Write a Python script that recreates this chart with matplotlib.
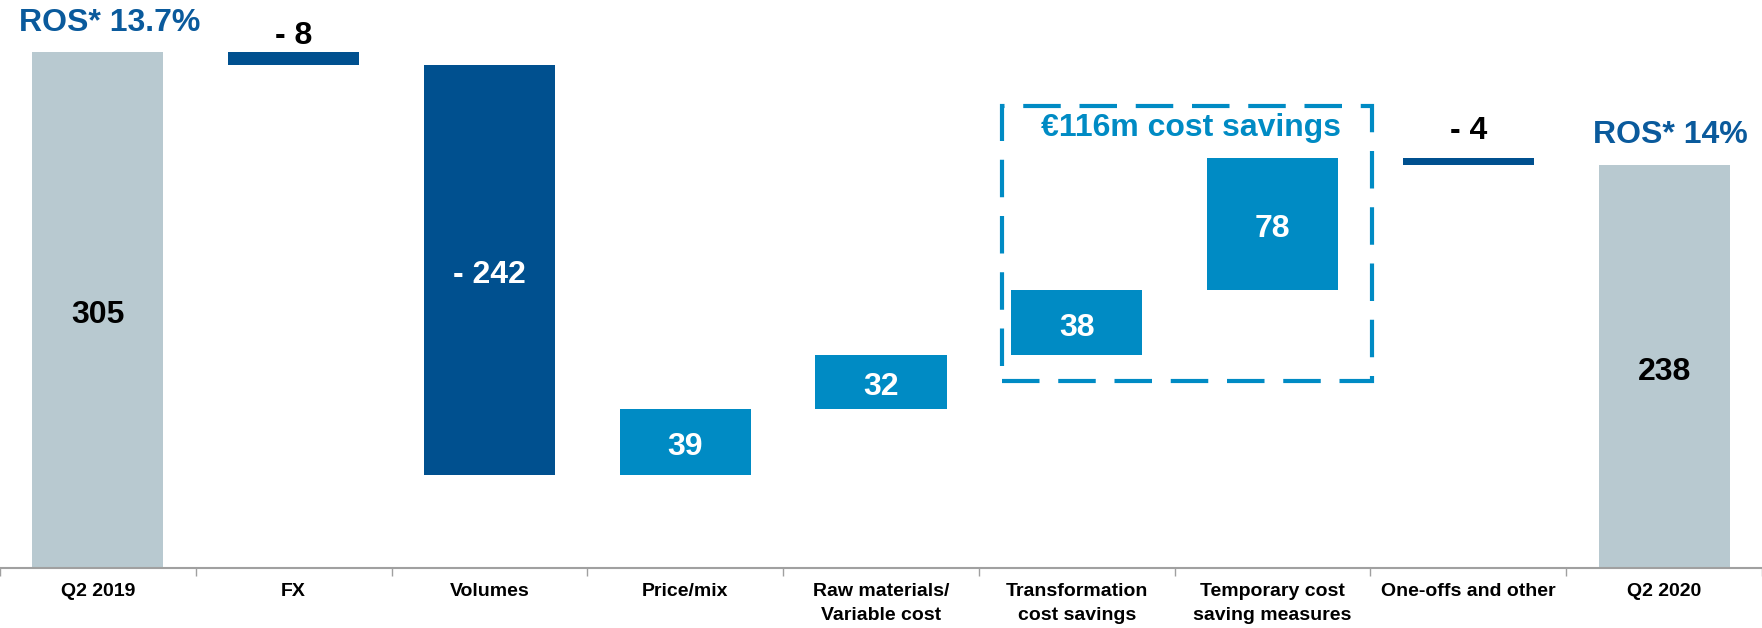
import numpy as np
import matplotlib
matplotlib.use("Agg")
import matplotlib.pyplot as plt
from matplotlib.patches import Rectangle

plt.rcParams['font.family'] = ['Liberation Sans', 'DejaVu Sans']
plt.rcParams['font.weight'] = 'bold'

# --- data ---
categories = ['Q2 2019', 'FX', 'Volumes', 'Price/mix', 'Raw materials/\nVariable cost',
              'Transformation\ncost savings', 'Temporary cost\nsaving measures',
              'One-offs and other', 'Q2 2020']
values = [305, -8, -242, 39, 32, 38, 78, -4, 238]
is_total = [True, False, False, False, False, False, False, False, True]
labels = ['305', '- 8', '- 242', '39', '32', '38', '78', '- 4', '238']
ros_labels = ['ROS* 13.7%', 'ROS* 14%']

grey = '#B8C9D0'
dark = '#00508F'
light = '#008BC4'

fig = plt.figure(figsize=(17.62, 6.28), dpi=100)
ax = fig.add_axes([0, 60 / 628, 1, 568 / 628])

x = np.arange(len(categories))
bottoms, heights, colors = [], [], []
running = 0
for v, tot in zip(values, is_total):
    if tot:
        bottoms.append(0)
        heights.append(v)
        colors.append(grey)
        running = v
    else:
        if v < 0:
            bottoms.append(running + v)
            colors.append(dark)
        else:
            bottoms.append(running)
            colors.append(light)
        heights.append(abs(v))
        running += v

ax.bar(x, heights, bottom=bottoms, width=0.67, color=colors, zorder=2)

# value labels
above_offset = {1: 9, 7: 16}
for i, (b, h, tot, lab) in enumerate(zip(bottoms, heights, is_total, labels)):
    if tot:
        ax.text(i, b + h / 2 - 3, lab, ha='center', va='center',
                fontsize=23, color='black', fontweight='bold')
    elif h < 15:
        ax.text(i, b + h + above_offset.get(i, 12), lab, ha='center', va='center',
                fontsize=23, color='black', fontweight='bold')
    else:
        ax.text(i, b + h / 2 - 3, lab, ha='center', va='center', fontsize=23,
                color='white', fontweight='bold')

# ROS annotations
ax.text(0.06, 322, ros_labels[0], ha='center', va='center', fontsize=23,
        color='#0A5A9C', fontweight='bold')
ax.text(8.03, 255.5, ros_labels[1], ha='center', va='center', fontsize=23,
        color='#0A5A9C', fontweight='bold')

# dashed box around cost savings
box = Rectangle((4.62, 110.5), 1.89, 162.4, fill=False, edgecolor=light,
                linewidth=3, linestyle=(0, (9, 4.5)), zorder=3)
ax.add_patch(box)
ax.text(5.585, 260, '\u20ac116m cost savings', ha='center', va='center',
        fontsize=23, color=light, fontweight='bold')

ax.set_xlim(-0.5, len(categories) - 0.5)
ax.set_ylim(0, 335.5)
for s in ['top', 'right', 'left']:
    ax.spines[s].set_visible(False)
ax.spines['bottom'].set_color('#A0A0A0')
ax.spines['bottom'].set_linewidth(1.5)
ax.set_yticks([])

ax.set_xticks(np.arange(-0.5, len(categories)))
ax.set_xticklabels([])
ax.tick_params(axis='x', which='major', length=6, color='#A0A0A0', width=1)
ax.set_xticks(x, minor=True)
ax.set_xticklabels(categories, minor=True, fontsize=14, fontweight='bold',
                   linespacing=1.55)
ax.tick_params(axis='x', which='minor', length=0, pad=10.5)

fig.savefig('out.png', dpi=100)
